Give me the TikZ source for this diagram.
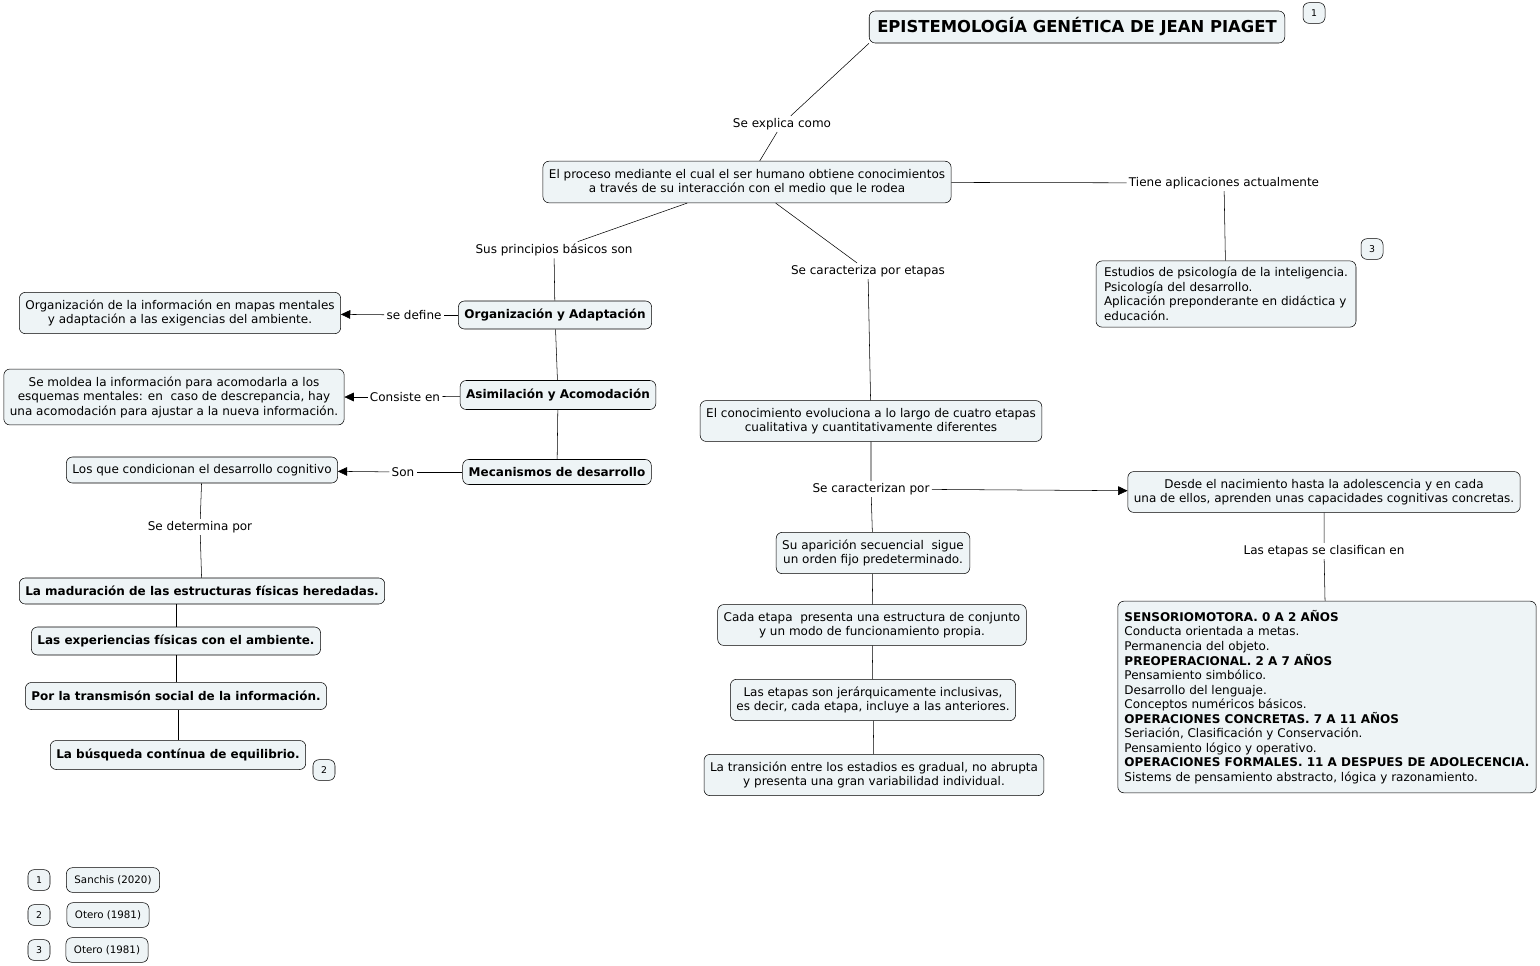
\documentclass[tikz,border=0pt]{standalone}
\usepackage{fontspec}
\setmainfont{DejaVu Sans}
\usetikzlibrary{arrows.meta, positioning}
\definecolor{boxfill}{RGB}{238,244,246}
\tikzstyle{concept} = [rectangle, rounded corners=4.5pt, draw=black, fill=boxfill, align=center, font=\fontsize{9}{10.9}\selectfont, inner xsep=4.5pt, inner ysep=5.5pt]
\tikzstyle{concept-bold} = [concept, font=\fontsize{9}{10.9}\selectfont\bfseries, inner ysep=0pt, minimum height=21pt]
\tikzstyle{concept-left} = [concept, align=left]
\tikzstyle{link-label} = [inner sep=1.5pt, font=\fontsize{9}{10.9}\selectfont]
\tikzstyle{badge} = [concept, font=\fontsize{7}{8}\selectfont, minimum width=16.5pt, minimum height=15.5pt, inner sep=0pt]
\tikzstyle{ref} = [concept, font=\fontsize{7.7}{8}\selectfont, minimum height=18.5pt, inner xsep=6pt, inner ysep=0pt]
\tikzstyle{arrow} = [-{Triangle[length=7pt,width=6.5pt]}]

\begin{document}
\begin{tikzpicture}[x=0.75pt, y=-0.75pt]
        \useasboundingbox (0,0) rectangle (1540,965);

        % top of the map
        \node [concept-bold, font=\fontsize{12.3}{14}\selectfont\bfseries, minimum height=24pt, inner xsep=6pt] (title) at (1077,27) {EPISTEMOLOGÍA GENÉTICA DE JEAN PIAGET};
        \node [badge] (badge1) at (1314,13) {1};
        \node [link-label] (explica) at (782,124) {Se explica como};
        \node [concept, inner ysep=5.8pt] (proceso) at (747,182) {El proceso mediante el cual el ser humano obtiene conocimientos\\a través de su interacción con el medio que le rodea};

        \node [link-label] (aplica) at (1224,183) {Tiene aplicaciones actualmente};
        \node [concept-left, inner ysep=4.8pt, inner xsep=6pt] (estudios) at (1226,294) {Estudios de psicología de la inteligencia.\\Psicología del desarrollo.\\Aplicación preponderante en didáctica y\\educación.};
        \node [badge] (badge3) at (1372,249) {3};

        % left branch
        \node [link-label] (principios) at (554,250) {Sus principios básicos son};
        \node [concept-bold] (orgadapt) at (555,315) {Organización y Adaptación};
        \node [link-label] (define) at (414,315) {se define};
        \node [concept] (organiz) at (180,313) {Organización de la información en mapas mentales\\y adaptación a las exigencias del ambiente.};

        \node [concept-bold, minimum height=21.75pt] (asimil) at (558,395) {Asimilación y Acomodación};
        \node [link-label] (consiste) at (405,397) {Consiste en};
        \node [concept] (moldea) at (174,397) {Se moldea la información para acomodarla a los\\esquemas mentales: en\ \ caso de descrepancia, hay\\una acomodación para ajustar a la nueva información.};

        \node [concept-bold, minimum height=18.75pt] (mecan) at (557,472) {Mecanismos de desarrollo};
        \node [link-label] (son) at (403,472) {Son};
        \node [concept, inner ysep=0pt, minimum height=19.5pt] (condic) at (202,470) {Los que condicionan el desarrollo cognitivo};
        \node [link-label] (determina) at (200,527) {Se determina por};

        \node [concept-bold, minimum height=19.5pt] (madur) at (202,591) {La maduración de las estructuras físicas heredadas.};
        \node [concept-bold] (exper) at (176,641) {Las experiencias físicas con el ambiente.};
        \node [concept-bold, minimum height=20.25pt] (transm) at (176,696) {Por la transmisón social de la información.};
        \node [concept-bold, minimum height=21.75pt] (equil) at (178,755) {La búsqueda contínua de equilibrio.};
        \node [badge] (badge2) at (324,770) {2};

        % middle branch
        \node [link-label] (etapas) at (868,271) {Se caracteriza por etapas};
        \node [concept] (conoc) at (871,421) {El conocimiento evoluciona a lo largo de cuatro etapas\\cualitativa y cuantitativamente diferentes};
        \node [link-label] (caracter) at (871,489) {Se caracterizan por};
        \node [concept] (desde) at (1324,492) {Desde el nacimiento hasta la adolescencia y en cada\\una de ellos, aprenden unas capacidades cognitivas concretas.};
        \node [link-label] (clasif) at (1324,551) {Las etapas se clasifican en};
        \node [concept-left, inner ysep=6.8pt, inner xsep=5pt] (sensorio) at (1327,697) {\textbf{SENSORIOMOTORA. 0 A 2 AÑOS}\\Conducta orientada a metas.\\Permanencia del objeto.\\\textbf{PREOPERACIONAL. 2 A 7 AÑOS}\\Pensamiento simbólico.\\Desarrollo del lenguaje.\\Conceptos numéricos básicos.\\\textbf{OPERACIONES CONCRETAS. 7 A 11 AÑOS}\\Seriación, Clasificación y Conservación.\\Pensamiento lógico y operativo.\\\textbf{OPERACIONES FORMALES. 11 A DESPUES DE ADOLECENCIA.}\\Sistems de pensamiento abstracto, lógica y razonamiento.};

        \node [concept] (aparic) at (873,553) {Su aparición secuencial\ \ sigue\\un orden fijo predeterminado.};
        \node [concept] (cadaetapa) at (872,625) {Cada etapa\ \ presenta una estructura de conjunto\\y un modo de funcionamiento propia.};
        \node [concept] (jerarq) at (873,700) {Las etapas son jerárquicamente inclusivas,\\es decir, cada etapa, incluye a las anteriores.};
        \node [concept] (transic) at (874,775) {La transición entre los estadios es gradual, no abrupta\\y presenta una gran variabilidad individual.};

        % references
        \node [badge] (key1) at (39,880) {1};
        \node [ref] (ref1) at (113,880) {Sanchis (2020)};
        \node [badge] (key2) at (39,915) {2};
        \node [ref] (ref2) at (108,915) {Otero (1981)};
        \node [badge] (key3) at (39,950) {3};
        \node [ref] (ref3) at (107,950) {Otero (1981)};

        % connectors
        \draw (title.south west) -- (explica) -- (proceso);
        \draw (proceso) -- (aplica) -- (estudios);
        \draw (proceso) -- (principios) -- (orgadapt);
        \draw (proceso) -- (etapas) -- (conoc);

        \draw (orgadapt) -- (define);
        \draw [arrow] (define) -- (organiz);
        \draw (orgadapt) -- (asimil);
        \draw (asimil) -- (consiste);
        \draw [arrow] (consiste) -- (moldea);
        \draw (asimil) -- (mecan);
        \draw (mecan) -- (son);
        \draw [arrow] (son) -- (condic);
        \draw (condic) -- (determina) -- (madur);
        \draw (exper.north) -- (exper.north |- madur.south);
        \draw (transm.north) -- (transm.north |- exper.south);
        \draw (equil.north) -- (equil.north |- transm.south);

        \draw (conoc) -- (caracter) -- (aparic);
        \draw [arrow] (caracter) -- (desde);
        \draw (desde) -- (clasif) -- (sensorio);
        \draw (aparic) -- (cadaetapa);
        \draw (cadaetapa) -- (jerarq);
        \draw (jerarq) -- (transic);
\end{tikzpicture}
\end{document}
